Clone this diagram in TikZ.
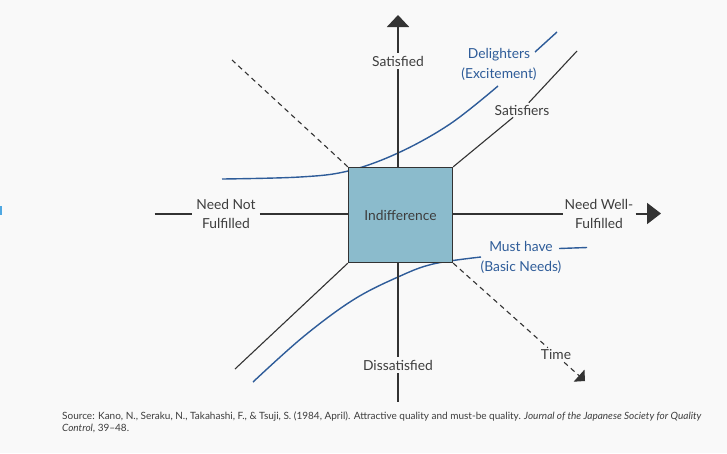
\documentclass[tikz,border=0pt]{standalone}
\usepackage{fontspec}
\setmainfont{Lato}
\usetikzlibrary{arrows.meta}
\definecolor{bg}{HTML}{F9F9F9}
\definecolor{axisc}{HTML}{333333}
\definecolor{txt}{HTML}{3D3D3D}
\definecolor{blu}{HTML}{2E5C99}
\definecolor{boxc}{HTML}{8BBBCC}
\definecolor{tickc}{HTML}{4FA8E2}
\begin{document}
\begin{tikzpicture}[x=1pt,y=-1pt,
  axis/.style={draw=axisc,line width=2pt},
  diag/.style={draw=axisc,line width=1.1pt},
  dsh/.style={diag,dash pattern=on 5pt off 4pt},
  curve/.style={draw=blu,line width=1.4pt},
  lab/.style={text=txt,font=\fontsize{13.8}{19}\selectfont,align=center,inner sep=3pt},
  blab/.style={lab,text=blu,font=\fontsize{13.8}{20}\selectfont},
]
\fill[bg] (0,0) rectangle (727,453);
\useasboundingbox (0,0) rectangle (727,453);
\fill[tickc] (0,206) rectangle (2,215);

% blue curves (below the box)
\draw[curve] plot[smooth,tension=0.6] coordinates {(222,179) (300,177) (348,171) (398,153) (450,124) (498,86)};
\draw[curve] plot[smooth,tension=0.6] coordinates {(253,382) (303,337) (353,300) (398,277) (433,264) (481,257)};
\coordinate (d1) at (535,52);
\coordinate (d2) at (557,32);
\draw[curve] (d1) -- (d2);
\coordinate (m1) at (559,248.5);
\coordinate (m2) at (587,247.5);
\draw[curve] (m1) -- (m2);

% box
\node[draw=axisc,line width=1.3pt,fill=boxc,minimum width=104pt,minimum height=95pt,
      text=txt,font=\fontsize{13.8}{16}\selectfont] (box) at (400.5,215) {\raisebox{-2pt}{Indifference}};

% labels
\node[lab] (sat) at (398,61) {Satisfied};
\node[lab] (dis) at (398,365) {Dissatisfied};
\node[lab,inner sep=4pt] (neednot) at (226,213.5) {Need Not\\Fulfilled};
\node[lab,inner sep=2pt] (needwell) at (599,213.5) {Need Well-\\Fulfilled};
\node[lab,inner sep=2pt] (satisf) at (522,110) {Satisfiers};
\node[lab,inner sep=2pt] (time) at (556,355) {Time};
\node[blab,inner sep=1pt] (deli) at (499,64) {Delighters\\(Excitement)};
\node[blab,inner sep=1pt] (must) at (521,257) {Must have\\(Basic Needs)};

% axes
\coordinate (vtop) at (398,15);
\coordinate (vbot) at (398,402);
\coordinate (hstart) at (154.5,213.5);
\coordinate (hend) at (661,213.5);
\draw[axis] (box.north -| sat) -- (sat);
\draw[axis,-{Triangle[length=12pt,width=22pt]}] (sat) -- (vtop);
\draw[axis] (box.south -| dis) -- (dis) -- (vbot);
\draw[axis] (hstart) -- (neednot) -- (box.west |- neednot);
\draw[axis] (box.east |- needwell) -- (needwell);
\draw[axis,-{Triangle[length=14pt,width=21pt]}] (needwell) -- (hend);

% diagonals
\coordinate (ul) at (232,60);
\coordinate (ur) at (577,51);
\coordinate (ll) at (235,369);
\coordinate (lr) at (585,381);
\draw[dsh] (box.north west) -- (ul);
\draw[diag] (box.north east) -- (satisf) -- (ur);
\draw[diag] (box.south west) -- (ll);
\draw[dsh] (box.south east) -- (time);
\draw[dsh,-{Triangle[length=8pt,width=16pt]}] (time) -- (lr);

% source
\node[anchor=west,align=left,inner sep=0pt,text=txt,font=\fontsize{10}{12}\selectfont] (src) at (62,422.5)
 {Source: Kano, N., Seraku, N., Takahashi, F., \& Tsuji, S. (1984, April). Attractive quality and must-be quality. \textit{Journal of the Japanese Society for Quality}\\\textit{Control}, 39--48.};
\end{tikzpicture}
\end{document}
